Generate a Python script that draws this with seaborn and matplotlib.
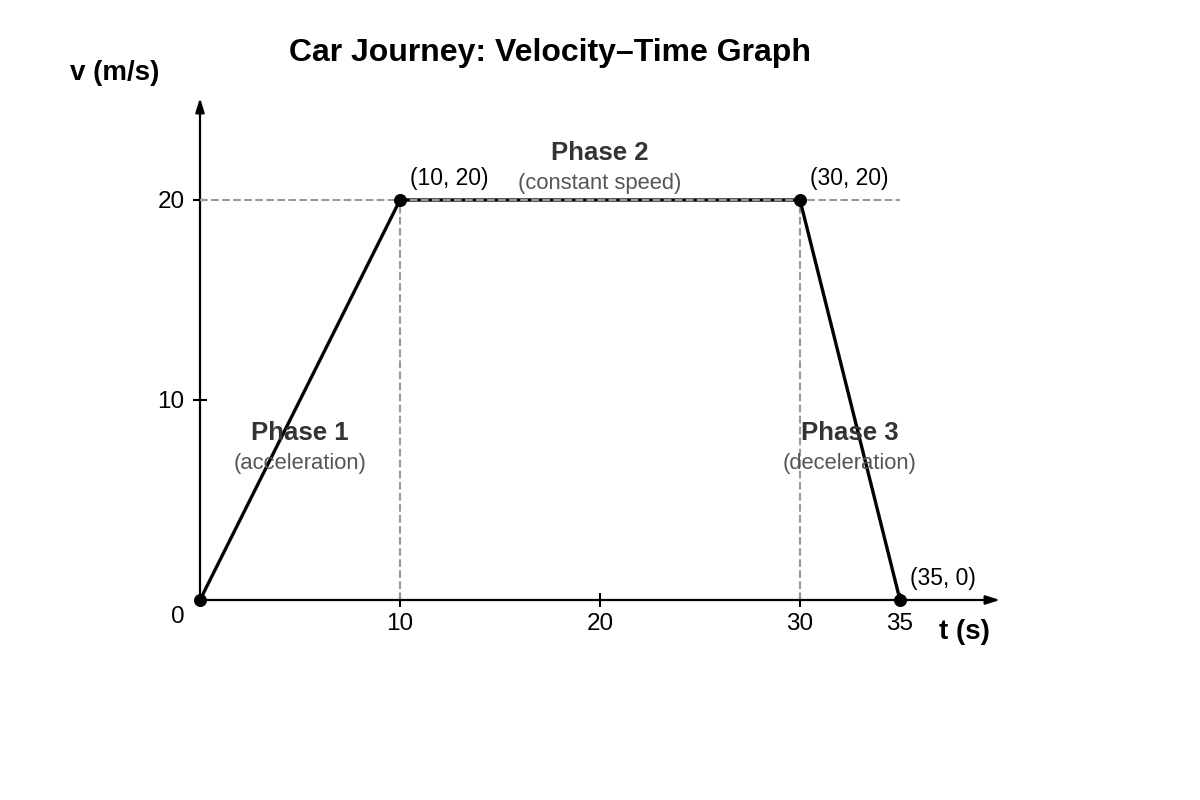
import matplotlib
matplotlib.use("Agg")
import matplotlib.pyplot as plt
import seaborn as sns
import pandas as pd

# --- Data ---
times = [0, 10, 30, 35]
velocities = [0, 20, 20, 0]
x_ticks = [10, 20, 30, 35]
y_ticks = [10, 20]
point_labels = ["(10, 20)", "(30, 20)", "(35, 0)"]
phase_titles = ["Phase 1", "Phase 2", "Phase 3"]
phase_notes = ["(acceleration)", "(constant speed)", "(deceleration)"]
phase_x = [5, 20, 32.5]
phase_y = [8.45, 22.45, 8.45]

df = pd.DataFrame({"t": times, "v": velocities})

sns.set_theme(style="white")
plt.rcParams["font.family"] = ["Liberation Sans", "DejaVu Sans"]
plt.rcParams["text.color"] = "black"

fig = plt.figure(figsize=(12, 8), dpi=100)
ax = fig.add_axes([200 / 1200, 200 / 800, 800 / 1200, 500 / 800])
ax.set_xlim(0, 40)
ax.set_ylim(0, 25)
for s in ax.spines.values():
    s.set_visible(False)

# guide lines
ax.plot([0, 35], [20, 20], ls="--", color="#999999", lw=1.5, zorder=3.5)
for xv in [10, 30]:
    ax.plot([xv, xv], [0, 20], ls="--", color="#999999", lw=1.5, zorder=1)

# axes with arrows
arrow = dict(arrowstyle="-|>,head_length=0.7,head_width=0.22", color="black", lw=1.6,
             shrinkA=0, shrinkB=0)
ax.annotate("", xy=(40, 0), xytext=(0, 0), arrowprops=arrow, annotation_clip=False)
ax.annotate("", xy=(0, 25.1), xytext=(0, 0), arrowprops=arrow, annotation_clip=False)

sns.lineplot(data=df, x="t", y="v", color="black", lw=2.4, ax=ax, zorder=3)
sns.scatterplot(data=df, x="t", y="v", color="black", s=75, ax=ax, zorder=4,
                edgecolor="black", clip_on=False)

ax.set_xticks(x_ticks)
ax.set_yticks(y_ticks)
ax.set_xticklabels([str(t) for t in x_ticks])
ax.set_yticklabels([str(t) for t in y_ticks])
ax.tick_params(axis="both", direction="inout", length=10, width=1.5, color="black",
               labelsize=17.5, labelcolor="black", bottom=True, left=True)
ax.tick_params(axis="x", pad=4)
ax.tick_params(axis="y", pad=6)
ax.set_xlabel("")
ax.set_ylabel("")

ax.text(-1.1, -0.85, "0", ha="center", va="center", fontsize=17.5)

# point labels
for (tx, vy), lab in zip(list(zip(times, velocities))[1:], point_labels):
    ax.text(tx + 0.5, vy + 1.1, lab, ha="left", va="center", fontsize=16.5, color="black")

# phase labels
for px, py, title, note in zip(phase_x, phase_y, phase_titles, phase_notes):
    ax.text(px, py - 0.1, title, ha="center", va="center", fontsize=18.5,
            fontweight="bold", color="#333333")
    ax.text(px, py - 1.65, note, ha="center", va="center", fontsize=15.8, color="#555555")

fig.text(550 / 1200, 1 - 53 / 800, "Car Journey: Velocity\u2013Time Graph",
         ha="center", va="center", fontsize=23, fontweight="bold", color="black")
fig.text(115 / 1200, 1 - 73 / 800, "v (m/s)", ha="center", va="center",
         fontsize=20, fontweight="bold", color="black")
fig.text(964 / 1200, 1 - 632 / 800, "t (s)", ha="center", va="center",
         fontsize=20, fontweight="bold", color="black")

fig.savefig("out.png", dpi=100)
